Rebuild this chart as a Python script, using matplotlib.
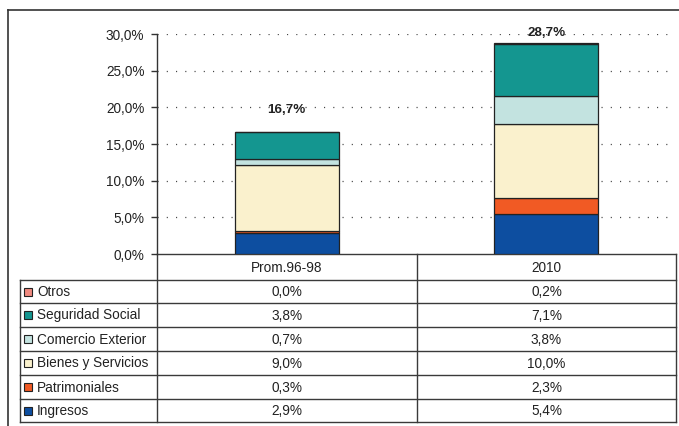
import matplotlib
matplotlib.use("Agg")
import matplotlib.pyplot as plt
from matplotlib.patches import Rectangle
import numpy as np

plt.rcParams['font.family'] = ['Liberation Sans', 'DejaVu Sans']

# ---- data ----
categories = ["Prom.96-98", "2010"]
series_names = ["Ingresos", "Patrimoniales", "Bienes y Servicios",
                "Comercio Exterior", "Seguridad Social", "Otros"]
ingresos = [2.9, 5.4]
patrimoniales = [0.3, 2.3]
bienes_servicios = [9.0, 10.0]
comercio_exterior = [0.7, 3.8]
seguridad_social = [3.8, 7.1]
otros = [0.0, 0.2]
totals = [16.7, 28.7]
yticks = [0, 5, 10, 15, 20, 25, 30]

series_values = [ingresos, patrimoniales, bienes_servicios,
                 comercio_exterior, seguridad_social, otros]
colors = ["#0d4ea0", "#f15a24", "#faf1cd", "#c3e3e0", "#149690", "#f08a80"]

def fmt(v):
    return ("%.1f%%" % v).replace(".", ",")

W, H = 679, 426
fig = plt.figure(figsize=(W / 100, H / 100), dpi=100)

# overlay axes in pixel coordinates
ov = fig.add_axes([0, 0, 1, 1])
ov.set_xlim(0, W)
ov.set_ylim(H, 0)
ov.axis("off")

# main chart axes
x0, x1 = 157, 676
ytop, ybot = 34, 254
ax = fig.add_axes([x0 / W, (H - ybot) / H, (x1 - x0) / W, (ybot - ytop) / H])
ax.set_xlim(-0.5, 1.5)
ax.set_ylim(0, 30)
x = np.arange(len(categories))
bottom = np.zeros(len(categories))
for vals, col in zip(series_values, colors):
    ax.bar(x, vals, 0.4, bottom=bottom, color=col, edgecolor="#222222",
           linewidth=0.9, zorder=3)
    bottom += np.array(vals)

for yv in yticks[1:]:
    ax.plot([-0.5, 1.475], [yv, yv], color="#444444", linewidth=0.9,
            linestyle=(0, (0.9, 6.5)), zorder=1)

label_offsets = [15.5, 7.5]
for xi, t, off in zip(x, totals, label_offsets):
    ax.annotate(fmt(t), (xi, t), xytext=(0, off), textcoords="offset points",
                ha="center", va="center", fontsize=9.6, fontweight="bold",
                color="#222222", annotation_clip=False, zorder=5)

ax.set_yticks(yticks)
ax.set_yticklabels([fmt(v) for v in yticks], fontsize=9.8, color="#222222")
ax.set_xticks([])
ax.tick_params(axis="y", length=4, width=1, color="#333333", pad=5)
for s in ["top", "right", "bottom"]:
    ax.spines[s].set_visible(False)
ax.spines["left"].set_color("#333333")
ax.spines["left"].set_linewidth(1.0)
ax.patch.set_alpha(0)

# outer frame
lc = "#333333"
ov.plot([8, 8], [H, 10], color=lc, lw=1.2)
ov.plot([8, W], [10, 10], color=lc, lw=1.2)

# table
col_x = [20, 157, 417, 676]
row_y = [254, 280, 303, 327, 351, 375, 399, 422]
tl = "#3a3a3a"
tw = 1.0
ov.plot([157, 676], [254, 254], color=tl, lw=tw)
for yy in row_y[1:]:
    ov.plot([col_x[0], col_x[-1]], [yy, yy], color=tl, lw=tw)
ov.plot([col_x[0], col_x[0]], [row_y[1], row_y[-1]], color=tl, lw=tw)
for xx in col_x[1:]:
    ov.plot([xx, xx], [254, row_y[-1]], color=tl, lw=tw)

for ci, cat in enumerate(categories):
    cx = (col_x[ci + 1] + col_x[ci + 2]) / 2
    ov.text(cx, (row_y[0] + row_y[1]) / 2 + 0.5, cat, ha="center", va="center",
            fontsize=9.8, color="#222222")

order = list(range(len(series_names)))[::-1]
for ri, si in enumerate(order):
    yc = (row_y[ri + 1] + row_y[ri + 2]) / 2
    ov.add_patch(Rectangle((24, yc - 4), 8, 8, facecolor=colors[si],
                           edgecolor="#222222", linewidth=0.8))
    ov.text(37, yc + 0.5, series_names[si], ha="left", va="center",
            fontsize=9.8, color="#222222")
    for ci in range(len(categories)):
        cx = (col_x[ci + 1] + col_x[ci + 2]) / 2
        ov.text(cx, yc + 0.5, fmt(series_values[si][ci]), ha="center",
                va="center", fontsize=9.8, color="#222222")

fig.savefig("out.png", dpi=100)
